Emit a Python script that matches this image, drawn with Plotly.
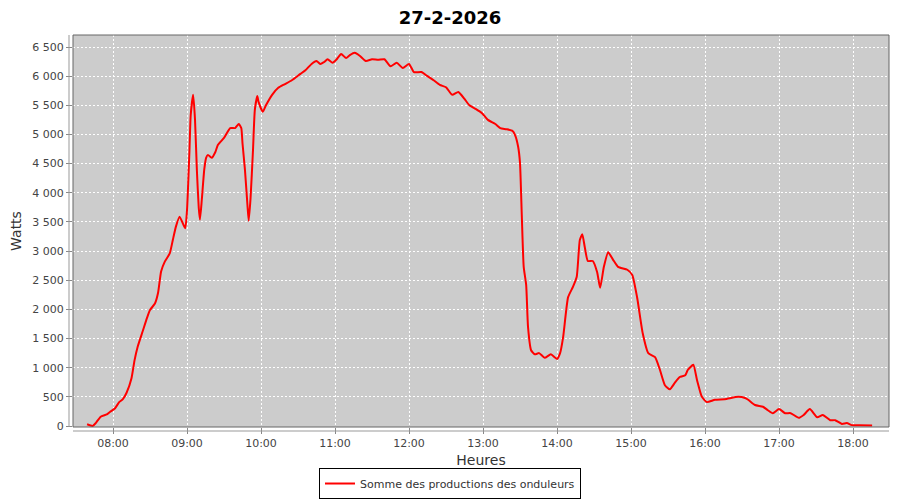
import plotly.graph_objects as go

DAY = "2026-02-27"
title_text = "27-2-2026"
series_name = "Somme des productions des onduleurs"

times = ["07:39:00", "07:43:30", "07:46:00", "07:50:00", "07:55:00", "07:57:30", "08:01:30", "08:05:00",
         "08:08:00", "08:11:00", "08:15:00", "08:17:30", "08:20:00", "08:24:00", "08:27:30", "08:30:00",
         "08:34:00", "08:36:30", "08:39:00", "08:42:00", "08:46:00", "08:48:30", "08:51:00", "08:54:00",
         "08:58:30", "09:00:00", "09:02:00", "09:03:00", "09:05:00", "09:06:30", "09:08:00", "09:09:30",
         "09:10:30", "09:12:00", "09:14:00", "09:15:30", "09:17:00", "09:20:00", "09:23:00", "09:25:00",
         "09:30:00", "09:35:00", "09:39:00", "09:42:00", "09:44:00", "09:45:00", "09:47:00", "09:49:00",
         "09:50:00", "09:51:30", "09:53:30", "09:55:00", "09:57:00", "09:58:00", "10:01:30", "10:04:00",
         "10:09:00", "10:14:00", "10:19:00", "10:25:00", "10:32:00", "10:36:00", "10:41:00", "10:45:00",
         "10:48:00", "10:51:00", "10:54:00", "10:58:00", "11:01:00", "11:05:00", "11:09:00", "11:12:00",
         "11:16:00", "11:20:00", "11:25:00", "11:30:00", "11:35:00", "11:40:00", "11:45:00", "11:50:00",
         "11:55:00", "12:00:00", "12:04:00", "12:10:00", "12:15:00", "12:20:00", "12:25:00", "12:30:00",
         "12:35:00", "12:40:00", "12:45:00", "12:49:00", "12:54:00", "12:59:00", "13:04:00", "13:10:00",
         "13:14:00", "13:19:00", "13:24:00", "13:26:00", "13:28:30", "13:30:00", "13:31:30", "13:33:00",
         "13:35:00", "13:36:30", "13:39:00", "13:42:00", "13:45:30", "13:50:00", "13:55:00", "14:00:00",
         "14:02:30", "14:05:00", "14:09:00", "14:13:00", "14:16:00", "14:18:30", "14:20:30", "14:22:30",
         "14:25:00", "14:29:00", "14:32:30", "14:35:00", "14:38:00", "14:41:30", "14:45:30", "14:49:30",
         "14:57:00", "15:01:00", "15:05:00", "15:09:30", "15:14:00", "15:19:30", "15:23:30", "15:27:30",
         "15:31:30", "15:35:30", "15:39:30", "15:44:00", "15:46:00", "15:50:30", "15:53:30", "15:57:30",
         "16:01:30", "16:08:00", "16:16:00", "16:27:00", "16:32:30", "16:35:00", "16:40:30", "16:47:00",
         "16:51:00", "16:55:00", "17:00:00", "17:05:00", "17:09:30", "17:16:00", "17:20:00", "17:25:00",
         "17:31:00", "17:35:30", "17:41:30", "17:45:30", "17:51:00", "17:55:00", "17:59:00", "18:05:30",
         "18:15:30"]

watts = [30, 0, 50, 160, 200, 240, 300, 410,
         460, 570, 820, 1130, 1360, 1620, 1850, 1990,
         2100, 2280, 2650, 2820, 2960, 3190, 3420, 3590,
         3390, 3700, 4730, 5330, 5680, 5250, 4390, 3750,
         3540, 3880, 4400, 4600, 4650, 4600, 4700, 4820,
         4940, 5110, 5110, 5180, 5110, 4850, 4390, 3790,
         3520, 3900, 4730, 5420, 5660, 5560, 5390, 5500,
         5680, 5800, 5860, 5930, 6040, 6100, 6210, 6260,
         6210, 6240, 6290, 6230, 6280, 6380, 6310, 6360,
         6400, 6350, 6260, 6290, 6280, 6290, 6170, 6230,
         6140, 6210, 6070, 6070, 6000, 5930, 5850, 5810,
         5680, 5730, 5610, 5500, 5440, 5370, 5250, 5180,
         5110, 5090, 5060, 4990, 4790, 4510, 3580, 2730,
         2420, 1700, 1300, 1230, 1250, 1170, 1230, 1150,
         1250, 1530, 2210, 2390, 2560, 3190, 3290, 3070,
         2830, 2830, 2640, 2370, 2730, 2980, 2850, 2730,
         2680, 2590, 2200, 1590, 1250, 1180, 960, 700,
         630, 740, 840, 870, 960, 1050, 790, 500,
         410, 450, 460, 500, 480, 450, 360, 330,
         270, 220, 290, 220, 220, 140, 190, 290,
         150, 190, 100, 100, 35, 50, 15, 15,
         10]

assert len(times) == len(watts), (len(times), len(watts))

x_ticks = ["08:00", "09:00", "10:00", "11:00", "12:00", "13:00", "14:00", "15:00", "16:00", "17:00", "18:00"]
y_ticks = [0, 500, 1000, 1500, 2000, 2500, 3000, 3500, 4000, 4500, 5000, 5500, 6000, 6500]

x_vals = [f"{DAY} {t}" for t in times]

FONT = "DejaVu Sans"
TICK_COLOR = "#444444"

fig = go.Figure()
fig.add_trace(go.Scatter(
    x=x_vals, y=watts, mode="lines", name=series_name,
    line=dict(color="#ff0000", width=2, shape="spline", smoothing=0.5),
    showlegend=True,
))

# the page body has an 8px margin, so the figure is 8px smaller than the window
fig.update_layout(
    width=892, height=492,
    margin=dict(l=65, r=11, t=27, b=73, autoexpand=False),
    paper_bgcolor="white",
    plot_bgcolor="#cccccc",
    separators=", ",
    font=dict(family=FONT, size=11, color=TICK_COLOR),
    title=dict(text=f"<b>{title_text}</b>", x=(450 - 8) / 892, xanchor="center",
               y=1 - 9.5 / 492, yanchor="middle",
               yref="container", font=dict(family=FONT, size=18, color="black")),
    showlegend=True,
    legend=dict(orientation="h", x=0.462, xanchor="center", y=-0.1837, yanchor="bottom",
                bordercolor="black", borderwidth=1, bgcolor="white",
                font=dict(family=FONT, size=11, color="#333333"),
                itemwidth=30, tracegroupgap=0),
)

fig.update_xaxes(
    type="date", automargin=False,
    range=[f"{DAY} 07:27:34", f"{DAY} 18:29:11"],
    tickvals=[f"{DAY} {t}:00" for t in x_ticks],
    ticktext=x_ticks,
    ticks="outside", ticklen=6, tickcolor="#888888",
    showgrid=True, gridcolor="white", griddash="2px,2px", gridwidth=1,
    zeroline=False, showline=False,
    tickfont=dict(family=FONT, size=11, color=TICK_COLOR),
    title=dict(text="Heures", font=dict(family=FONT, size=14, color="#333333"), standoff=5),
)

fig.update_yaxes(
    automargin=False,
    range=[-17, 6706],
    tickvals=y_ticks,
    tickformat=",d",
    ticks="outside", ticklen=6, tickcolor="#888888",
    showgrid=True, gridcolor="white", griddash="2px,2px", gridwidth=1,
    zeroline=False, showline=False,
    tickfont=dict(family=FONT, size=11, color=TICK_COLOR),
    title=dict(text="Watts", font=dict(family=FONT, size=14, color="#333333"), standoff=8),
)

# plot border and offset axis lines (JFreeChart style)
fig.add_shape(type="rect", xref="paper", yref="paper", x0=0, x1=1, y0=0, y1=1,
              line=dict(color="#666666", width=1), fillcolor="rgba(0,0,0,0)", layer="above")
fig.add_shape(type="line", xref="paper", yref="paper", x0=-4/816, x1=-4/816, y0=0, y1=1,
              line=dict(color="#999999", width=1))
fig.add_shape(type="line", xref="paper", yref="paper", x0=0, x1=1, y0=-4/392, y1=-4/392,
              line=dict(color="#999999", width=1))

fig.write_html("out.html")
